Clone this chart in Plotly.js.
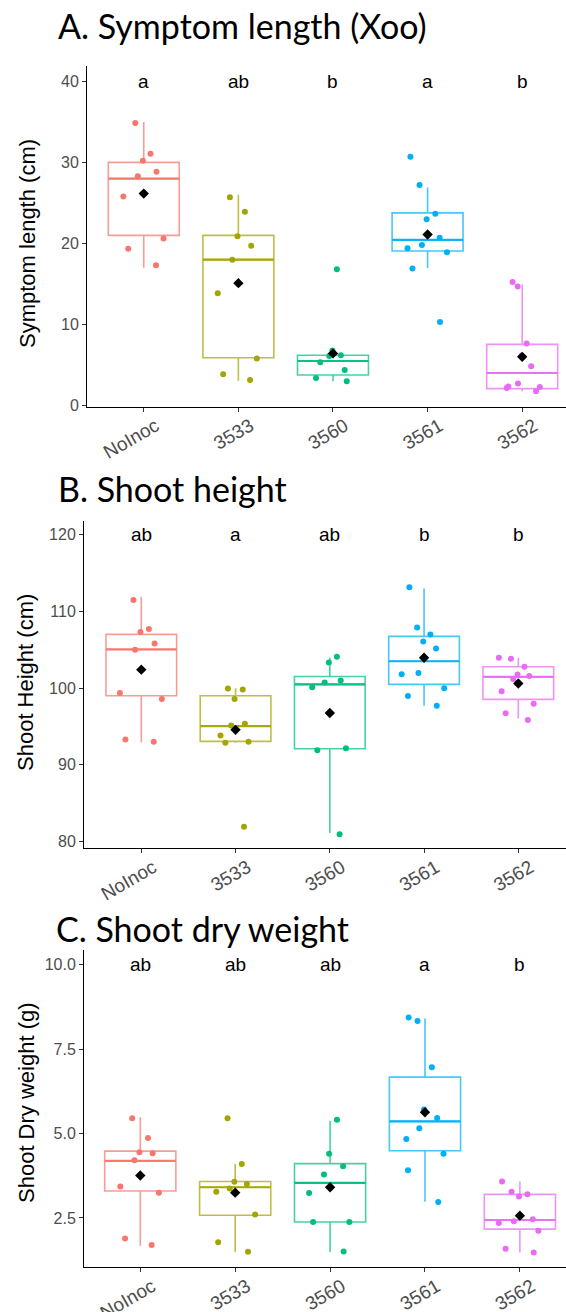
<!DOCTYPE html>
<html><head><meta charset="utf-8">
<script src="https://cdn.plot.ly/plotly-3.0.1.min.js"></script>
<style>html,body{margin:0;padding:0;background:#fff}</style>
</head><body>
<div id="chart" style="width:566px;height:1312px"></div>
<script>
const groups = ["NoInoc","3533","3560","3561","3562"];
const groupColors = ["#F8766D","#A3A500","#00BF7D","#00B0F6","#E76BF3"];

// A. Symptom length (cm)
const symptomPoints = [
  [34.85,31.07,30.2,28.86,28.3,25.8,20.6,19.35,17.3],
  [25.7,23.9,20.9,19.7,18.0,13.85,5.8,3.85,3.15],
  [16.8,6.8,6.1,6.19,5.33,4.38,3.4,3.0],
  [30.7,27.2,23.65,23.0,20.7,19.8,19.4,18.9,16.9,10.3],
  [15.25,14.7,7.66,6.18,4.83,2.7,2.29,2.33,2.17,1.76]
];
const symptomQ1 = [21.0, 5.9, 3.76, 19.06, 2.08];
const symptomMedian = [28.0, 18.0, 5.49, 20.45, 4.01];
const symptomQ3 = [30.0, 21.0, 6.2, 23.77, 7.54];
const symptomLow = [17.0, 3.06, 3.0, 16.96, 1.76];
const symptomHigh = [35.0, 26.0, 7.0, 26.9, 14.96];
const symptomMean = [26.15, 15.1, 6.43, 21.1, 6.0];
const symptomLetters = ["a","ab","b","a","b"];

// B. Shoot height (cm)
const heightPoints = [
  [111.5,107.7,107.3,105.8,105.0,99.35,98.56,93.3,93.0],
  [99.8,99.95,98.56,95.35,95.1,93.8,92.86,93.0,81.9],
  [104.08,103.35,101.0,100.74,100.09,92.13,91.87,80.91],
  [113.17,107.9,107.0,106.09,105.17,101.8,101.95,99.96,98.95,97.69],
  [103.82,103.95,102.78,101.78,101.56,101.17,99.6,97.95,96.7,95.82]
];
const heightQ1 = [99.0, 93.04, 92.08, 100.48, 98.52];
const heightMedian = [105.04, 95.04, 100.48, 103.5, 101.47];
const heightQ3 = [107.0, 99.0, 101.5, 106.74, 102.78];
const heightLow = [92.9, 92.86, 81.1, 97.7, 96.04];
const heightHigh = [111.9, 99.96, 103.95, 113.0, 103.95];
const heightMean = [102.4, 94.55, 96.74, 103.95, 100.6];
const heightLetters = ["ab","a","ab","b","b"];

// C. Shoot dry weight (g)
const weightPoints = [
  [5.45,4.87,4.45,4.42,4.21,3.43,3.25,1.89,1.70],
  [5.45,4.1,3.57,3.51,3.37,3.28,2.6,1.78,1.50],
  [5.41,4.4,4.03,3.79,3.24,2.38,2.38,1.51],
  [8.44,8.33,6.96,5.71,5.46,5.16,4.84,4.4,3.91,2.97],
  [3.58,3.28,3.14,3.20,2.40,2.46,2.35,2.12,1.59,1.48]
];
const weightQ1 = [3.30, 2.58, 2.38, 4.49, 2.17];
const weightMedian = [4.19, 3.41, 3.54, 5.36, 2.44];
const weightQ3 = [4.48, 3.58, 4.11, 6.67, 3.20];
const weightLow = [1.68, 1.49, 1.49, 2.98, 1.48];
const weightHigh = [5.48, 4.1, 5.38, 8.41, 3.58];
const weightMean = [3.76, 3.25, 3.41, 5.63, 2.57];
const weightLetters = ["ab","ab","ab","a","b"];

function hexA(hex, a){
  const n = parseInt(hex.slice(1),16);
  return `rgba(${(n>>16)&255},${(n>>8)&255},${n&255},${a})`;
}

const panels = [
  {pts:symptomPoints,q1:symptomQ1,med:symptomMedian,q3:symptomQ3,lo:symptomLow,hi:symptomHigh,mean:symptomMean,letters:symptomLetters,letterY:40,xa:'x',ya:'y'},
  {pts:heightPoints,q1:heightQ1,med:heightMedian,q3:heightQ3,lo:heightLow,hi:heightHigh,mean:heightMean,letters:heightLetters,letterY:120,xa:'x2',ya:'y2'},
  {pts:weightPoints,q1:weightQ1,med:weightMedian,q3:weightQ3,lo:weightLow,hi:weightHigh,mean:weightMean,letters:weightLetters,letterY:10,xa:'x3',ya:'y3'}
];

const traces = [];
const annotations = [];
panels.forEach(p => {
  groups.forEach((g,i) => {
    traces.push({
      type:'box', x:[g], y:[p.pts[i]],
      q1:[p.q1[i]], median:[p.med[i]], q3:[p.q3[i]],
      lowerfence:[p.lo[i]], upperfence:[p.hi[i]],
      width:0.75, whiskerwidth:0,
      boxpoints:'all', jitter:0.75, pointpos:0,
      fillcolor:'rgba(0,0,0,0)',
      line:{color:hexA(groupColors[i],0.72), width:1.6},
      marker:{color:groupColors[i], size:6, line:{width:0}},
      xaxis:p.xa, yaxis:p.ya, hoverinfo:'skip'
    });
    // heavier median bar (ggplot draws the median twice as thick)
    traces.push({
      type:'box', x:[g],
      q1:[p.med[i]], median:[p.med[i]], q3:[p.med[i]],
      lowerfence:[p.med[i]], upperfence:[p.med[i]],
      width:0.75, whiskerwidth:0, boxpoints:false,
      fillcolor:'rgba(0,0,0,0)',
      line:{color:hexA(groupColors[i],0.9), width:2.2},
      xaxis:p.xa, yaxis:p.ya, hoverinfo:'skip'
    });
  });
  traces.push({
    type:'scatter', mode:'markers', x:groups, y:p.mean,
    marker:{symbol:'diamond', color:'#000', size:8},
    xaxis:p.xa, yaxis:p.ya, hoverinfo:'skip'
  });
  groups.forEach((g,i) => {
    annotations.push({
      xref:p.xa, yref:p.ya, x:i, y:p.letterY, text:p.letters[i],
      showarrow:false, xanchor:'center', yanchor:'middle',
      font:{family:'Liberation Sans, Arial, sans-serif', size:19, color:'#000'}
    });
  });
});

const H = 1312, W = 566;
function py(px){ return 1 - px/H; }

const tickFont = {family:'Liberation Sans, Arial, sans-serif', size:16, color:'#4D4D4D'};
function xAxis(dom, range, anchor){
  return {domain:dom, range:range, type:'category', categoryarray:groups, categoryorder:'array',
    anchor:anchor, showline:true, linecolor:'#000', linewidth:1, ticks:'outside', ticklen:4,
    tickcolor:'#333', tickwidth:1, showgrid:false, zeroline:false, tickangle:-30,
    ticklabelshift:12, ticklabelstandoff:-4,
    tickfont:{family:'Liberation Sans, Arial, sans-serif', size:19, color:'#4D4D4D'}};
}
function yAxis(dom, range, anchor, tickvals, fmt){
  return {domain:dom, range:range, anchor:anchor, showline:true, linecolor:'#000', linewidth:1,
    ticks:'outside', ticklen:4, tickcolor:'#333', tickwidth:1, showgrid:false, zeroline:false,
    tickvals:tickvals, tickformat:fmt, tickfont:tickFont};
}

const titleFont = {family:'Lato, sans-serif', size:34, color:'#000'};
const ytFont = {family:'Liberation Sans, Arial, sans-serif', size:22, color:'#000'};
annotations.push(
  {xref:'paper',yref:'paper',x:56/W,y:py(25.4),text:'A. Symptom length (Xoo)',showarrow:false,xanchor:'left',yanchor:'middle',font:titleFont},
  {xref:'paper',yref:'paper',x:56/W,y:py(488),text:'B. Shoot height',showarrow:false,xanchor:'left',yanchor:'middle',font:titleFont},
  {xref:'paper',yref:'paper',x:54/W,y:py(928),text:'C. Shoot dry weight',showarrow:false,xanchor:'left',yanchor:'middle',font:titleFont},
  {xref:'paper',yref:'paper',x:27/W,y:py(244),text:'Symptom length (cm)',textangle:-90,showarrow:false,xanchor:'center',yanchor:'middle',font:ytFont},
  {xref:'paper',yref:'paper',x:25/W,y:py(683),text:'Shoot Height (cm)',textangle:-90,showarrow:false,xanchor:'center',yanchor:'middle',font:ytFont},
  {xref:'paper',yref:'paper',x:26/W,y:py(1103),text:'Shoot Dry weight (g)',textangle:-90,showarrow:false,xanchor:'center',yanchor:'middle',font:ytFont}
);

const layout = {
  width:W, height:H, margin:{l:0,r:0,t:0,b:0}, showlegend:false,
  paper_bgcolor:'#fff', plot_bgcolor:'rgba(0,0,0,0)', boxmode:'overlay',
  xaxis: xAxis([87/W,1], [-0.6,4.463], 'y'),
  yaxis: yAxis([py(406.7), py(66)], [-0.15,41.9], 'x', [0,10,20,30,40]),
  xaxis2: xAxis([84/W,1], [-0.608,4.506], 'y2'),
  yaxis2: yAxis([py(848.3), py(521)], [79.09,121.8], 'x2', [80,90,100,110,120]),
  xaxis3: xAxis([84/W,1], [-0.593,4.486], 'y3'),
  yaxis3: yAxis([py(1267.3), py(950)], [1.04,10.435], 'x3', [2.5,5,7.5,10], '.1f'),
  annotations: annotations
};

Plotly.newPlot('chart', traces, layout, {staticPlot:true});
</script>
</body></html>
